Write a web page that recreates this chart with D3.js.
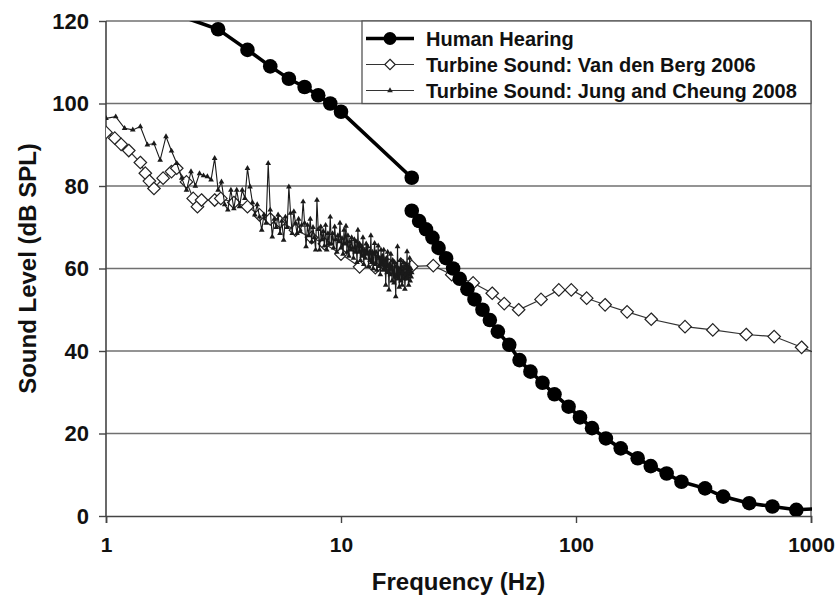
<!DOCTYPE html>
<html>
<head>
<meta charset="utf-8">
<script src="https://cdn.jsdelivr.net/npm/d3@7"></script>
<style>
  body { margin: 0; background: #fff; }
  svg { display: block; font-family: "Liberation Sans", Arial, sans-serif; font-weight: bold; }
</style>
</head>
<body>
<script>
// Human hearing threshold, infrasound part (ends at 20 Hz)
const hearingInfraFreq = [2, 3, 4, 5, 6, 7, 8, 9, 10, 20]
const hearingInfraDb = [121.5, 118, 113, 109, 106, 104, 102, 100, 98, 82]
// Human hearing threshold, audible part
const hearingAudioFreq = [20, 21.5, 23, 24.5, 26, 28, 30, 32, 34.5, 37, 40, 43, 46.5, 52, 57.5, 64, 72, 81, 93, 104,
  117, 134, 155, 183, 208, 243, 281, 354, 423, 546, 685, 866, 1080]
const hearingAudioDb = [74, 71.5, 69.5, 67.5, 65, 62.5, 60, 57.5, 55, 52.5, 50, 47.5, 44.7, 41.5, 37.8, 35, 32.3, 29.5, 26.5, 23.9,
  21.3, 18.8, 16.4, 14, 12.1, 10.3, 8.3, 6.7, 4.7, 3.1, 2.3, 1.5, 1.8]

// Van den Berg 2006
const bergFreq = [1.0, 1.09, 1.16, 1.25, 1.4, 1.47, 1.53, 1.6, 1.75, 1.9, 2.0, 2.2, 2.35, 2.45, 2.55, 2.9, 3.08, 3.5, 4.0, 4.5,
  5.0, 5.5, 6.4, 7.5, 8.5, 10, 12, 14, 16, 18, 20, 24.7, 29.6, 36.5, 44, 49.5, 57, 71, 84.5, 95.5,
  111, 133, 165, 209, 291, 382, 530, 697, 912, 1100]
const bergDb = [93, 91.6, 90.1, 88.6, 85.7, 83.1, 81.2, 79.4, 81.9, 83.5, 84.3, 81, 77, 75, 76.6, 76.6, 77, 76, 75, 73,
  72, 71.3, 69.3, 67.5, 66, 63.5, 60.4, 60.2, 60.8, 61, 60.5, 60.7, 58.5, 56.5, 54, 51.5, 50, 52.5, 54.8, 54.8,
  52.8, 51.2, 49.5, 47.7, 45.9, 45.1, 44.0, 43.5, 40.9, 39]

// Jung and Cheung 2008, 0.1 Hz steps from 1 Hz to 20 Hz
const jungStart = 1.0
const jungStep = 0.1
const jungDb = [
  96.4, 96.8, 94.0, 93.6, 94.4, 90.0, 90.3, 86.3, 92.0, 88.5,
  85.5, 81.9, 79.0, 83.5, 80.0, 83.0, 82.5, 82.3, 81.5, 86.7,
  79.0, 81.0, 75.5, 74.2, 79.0, 74.5, 79.0, 75.0, 79.0, 77.0,
  84.3, 79.8, 76.0, 73.0, 75.5, 72.5, 69.3, 73.0, 71.0, 85.5,
  74.2, 67.7, 72.0, 70.0, 73.0, 68.5, 71.5, 66.9, 72.5, 70.0,
  79.8, 73.4, 68.5, 73.8, 71.0, 68.5, 72.0, 69.0, 70.5, 76.2,
  71.0, 65.3, 70.5, 68.0, 72.0, 66.5, 70.0, 67.5, 64.5, 76.6,
  69.5, 64.5, 70.1, 67.0, 69.0, 65.5, 70.5, 64.5, 68.5, 66.0,
  72.5, 66.0, 68.5, 65.0, 70.1, 67.0, 64.0, 68.0, 66.5, 71.0,
  65.0, 67.3, 63.5, 69.3, 66.0, 70.3, 64.0, 68.0, 63.0, 66.5,
  64.5, 67.5, 65.0, 62.5, 67.0, 64.0, 66.5, 61.5, 69.3, 64.0,
  66.0, 62.0, 65.3, 63.0, 67.5, 61.0, 64.5, 62.5, 66.0, 63.5,
  65.3, 60.5, 64.0, 62.0, 68.0, 61.5, 64.0, 60.0, 63.5, 66.1,
  61.0, 64.0, 59.6, 63.0, 65.5, 60.5, 62.5, 58.5, 64.5, 61.0,
  63.0, 59.6, 64.5, 60.0, 62.0, 56.0, 62.5, 59.0, 64.0, 60.5,
  54.8, 61.0, 58.5, 63.5, 60.0, 57.0, 62.0, 59.0, 56.5, 61.5,
  58.0, 53.2, 60.5, 58.0, 65.3, 57.5, 60.0, 55.5, 59.5, 62.0,
  57.0, 60.5, 56.0, 59.0, 61.5, 57.5, 60.0, 55.0, 58.5, 61.0,
  57.5, 64.1, 58.0, 60.5, 56.0, 59.5, 62.5, 57.0, 60.0, 58.0,
  59.0
]

const xTicks = [1, 10, 100, 1000]
const yTicks = [0, 20, 40, 60, 80, 100, 120]
const legendLabels = ["Human Hearing", "Turbine Sound: Van den Berg 2006", "Turbine Sound: Jung and Cheung 2008"]

const width = 835, height = 601
const plot = { left: 106, right: 811, top: 21, bottom: 516 }

const zip = (fs, vs) => fs.map((f, i) => ({ f: f, v: vs[i] }))
const hearingInfra = zip(hearingInfraFreq, hearingInfraDb)
const hearingAudio = zip(hearingAudioFreq, hearingAudioDb)
const berg = zip(bergFreq, bergDb)
const jung = jungDb.map((v, i) => ({ f: jungStart + i * jungStep, v: v }))

const x = d3.scaleLog().domain([1, 1000]).range([plot.left, plot.right])
const y = d3.scaleLinear().domain([0, 120]).range([plot.bottom, plot.top])

const svg = d3.select("body").append("svg")
  .attr("width", width)
  .attr("height", height)

svg.append("defs").append("clipPath").attr("id", "plot-clip")
  .append("rect")
  .attr("x", plot.left)
  .attr("y", plot.top)
  .attr("width", plot.right - plot.left + 1)
  .attr("height", plot.bottom - plot.top)

// gridlines
svg.append("g")
  .selectAll("line")
  .data(yTicks.filter(t => t > 0))
  .enter()
  .append("line")
  .attr("x1", plot.left)
  .attr("x2", plot.right)
  .attr("y1", d => y(d))
  .attr("y2", d => y(d))
  .attr("stroke", "#707070")
  .attr("stroke-width", 1.3)

// right frame
svg.append("line")
  .attr("x1", plot.right).attr("x2", plot.right)
  .attr("y1", plot.top).attr("y2", plot.bottom)
  .attr("stroke", "#555").attr("stroke-width", 1.3)

// axes
const yAxis = d3.axisLeft(y).tickValues(yTicks).tickSize(7).tickPadding(10)
const xAxis = d3.axisBottom(x).tickValues(xTicks).tickFormat(d3.format("d")).tickSize(7).tickPadding(14)

const gy = svg.append("g").attr("transform", `translate(${plot.left},0)`).call(yAxis)
const gx = svg.append("g").attr("transform", `translate(0,${plot.bottom})`).call(xAxis)

;[gx, gy].forEach(g => {
  g.select(".domain").attr("stroke", "#444").attr("stroke-width", 1.6)
  g.selectAll(".tick line").attr("stroke", "#444").attr("stroke-width", 1.4)
  g.selectAll(".tick text")
    .attr("fill", "#111")
    .style("font-family", "'Liberation Sans', Arial, sans-serif")
    .style("font-weight", "bold")
    .style("font-size", "21px")
})
gy.select(".domain").attr("d", `M0,${plot.top}V${plot.bottom}`)
gy.selectAll(".tick text").style("font-size", "22px")

// axis titles
svg.append("text")
  .attr("x", (plot.left + plot.right) / 2)
  .attr("y", 590)
  .attr("text-anchor", "middle")
  .attr("font-size", "24px")
  .attr("fill", "#111")
  .text("Frequency (Hz)")

svg.append("text")
  .attr("transform", `translate(27,${(plot.top + plot.bottom) / 2}) rotate(-90)`)
  .attr("text-anchor", "middle")
  .attr("dominant-baseline", "central")
  .attr("font-size", "24px")
  .attr("fill", "#111")
  .text("Sound Level (dB SPL)")

const line = d3.line().x(d => x(d.f)).y(d => y(d.v))
const series = svg.append("g").attr("clip-path", "url(#plot-clip)")

// Van den Berg
series.append("path")
  .datum(berg)
  .attr("d", line)
  .attr("fill", "none")
  .attr("stroke", "#333")
  .attr("stroke-width", 1.2)

const diamond = d3.symbol().type(d3.symbolDiamond2).size(100)
series.append("g")
  .selectAll("path")
  .data(berg.filter(d => d.f <= 1000))
  .enter()
  .append("path")
  .attr("transform", d => `translate(${x(d.f)},${y(d.v)})`)
  .attr("d", diamond)
  .attr("fill", "#fff")
  .attr("stroke", "#222")
  .attr("stroke-width", 1.2)

// Jung and Cheung
series.append("path")
  .datum(jung)
  .attr("d", line)
  .attr("fill", "none")
  .attr("stroke", "#1a1a1a")
  .attr("stroke-width", 1.1)

const tri = d3.symbol().type(d3.symbolTriangle).size(14)
series.append("g")
  .selectAll("path")
  .data(jung)
  .enter()
  .append("path")
  .attr("transform", d => `translate(${x(d.f)},${y(d.v)})`)
  .attr("d", tri)
  .attr("fill", "#1a1a1a")

// Human hearing
;[hearingInfra, hearingAudio].forEach(seg => {
  series.append("path")
    .datum(seg)
    .attr("d", line)
    .attr("fill", "none")
    .attr("stroke", "#000")
    .attr("stroke-width", 3.6)

  series.append("g")
    .selectAll("circle")
    .data(seg.filter(d => d.v <= 120 && d.f <= 1000))
    .enter()
    .append("circle")
    .attr("cx", d => x(d.f))
    .attr("cy", d => y(d.v))
    .attr("r", 7.3)
    .attr("fill", "#000")
})

// legend
const legend = svg.append("g")
legend.append("rect")
  .attr("x", 362).attr("y", plot.top)
  .attr("width", plot.right - 362).attr("height", y(100) - plot.top)
  .attr("fill", "#fff")
  .attr("stroke", "#555")
  .attr("stroke-width", 1.3)

const rows = legend.selectAll("g.row")
  .data(legendLabels)
  .enter()
  .append("g")
  .attr("class", "row")
  .attr("transform", (d, i) => `translate(0,${38.5 + i * 26})`)

rows.append("line")
  .attr("x1", 366).attr("x2", 414)
  .attr("stroke", (d, i) => i == 0 ? "#000" : "#333")
  .attr("stroke-width", (d, i) => i == 0 ? 3.6 : 1.2)

rows.filter((d, i) => i == 0).append("circle")
  .attr("cx", 390).attr("r", 6.5).attr("fill", "#000")
rows.filter((d, i) => i == 1).append("path")
  .attr("transform", "translate(390,0)")
  .attr("d", d3.symbol().type(d3.symbolDiamond2).size(70))
  .attr("fill", "#fff").attr("stroke", "#222").attr("stroke-width", 1.2)
rows.filter((d, i) => i == 2).append("path")
  .attr("transform", "translate(390,0)")
  .attr("d", tri)
  .attr("fill", "#222")

rows.append("text")
  .attr("x", 426)
  .attr("dominant-baseline", "central")
  .attr("font-size", "20px")
  .attr("fill", "#111")
  .text(d => d)
</script>
</body>
</html>
